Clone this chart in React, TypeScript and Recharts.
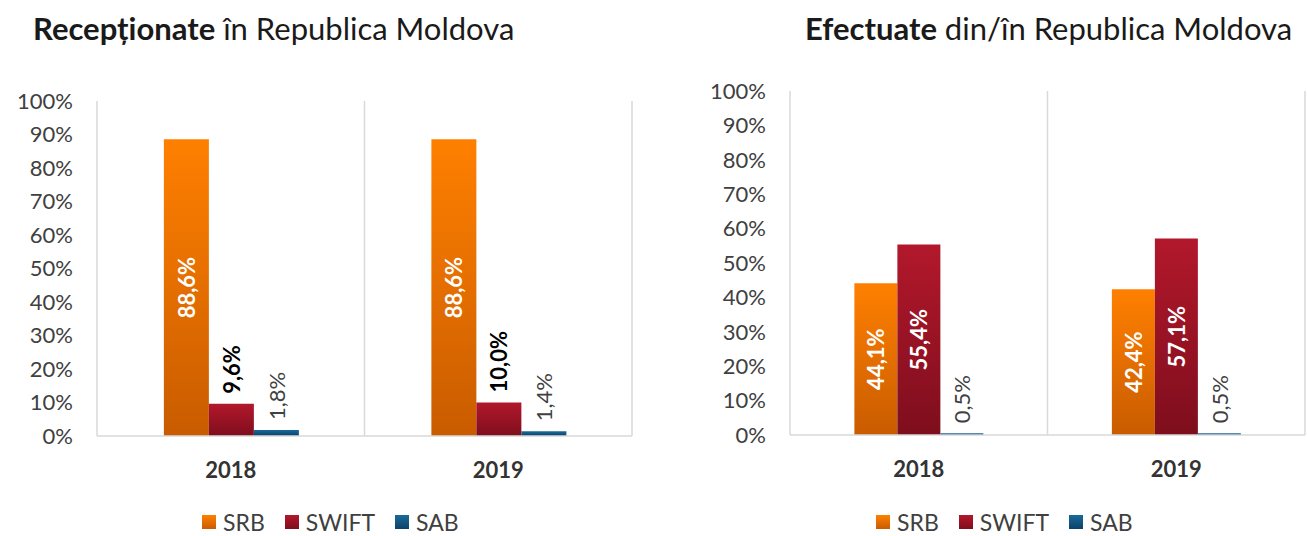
import React from 'react';
import { BarChart, Bar, XAxis, YAxis, CartesianGrid, Legend, LabelList } from 'recharts';

const categories = ['2018', '2019'];
const receivedSRB = [88.6, 88.6];
const receivedSWIFT = [9.6, 10.0];
const receivedSAB = [1.8, 1.4];
const sentSRB = [44.1, 42.4];
const sentSWIFT = [55.4, 57.1];
const sentSAB = [0.5, 0.5];
const yTicks = [0, 10, 20, 30, 40, 50, 60, 70, 80, 90, 100];
const seriesNames = ['SRB', 'SWIFT', 'SAB'];

const FONT = 'Lato, "Open Sans", sans-serif';
const GRID = '#d9d9d9';

const colors: Record<string, [string, string]> = {
    SRB: ['#ff8000', '#c95c00'],
    SWIFT: ['#b2182b', '#7e0e1d'],
    SAB: ['#1a6a9c', '#0c4266'],
};

const fmt = (v: number) => v.toFixed(1).replace('.', ',') + '%';

// rotated value label, either centred inside the bar or just above it
const makeLabel = (inside: boolean, color: string, weight: number) => (props: any) => {
    const { x, y, width, height, value } = props;
    const cx = x + width / 2;
    if (inside) {
        const cy = y + height / 2;
        return (
            <text x={cx} y={cy} transform={`rotate(-90 ${cx} ${cy})`} textAnchor="middle" dominantBaseline="central"
                fill={color} fontSize={22} fontWeight={weight} fontFamily={FONT}>{fmt(value)}</text>
        );
    }
    const ty = y - 10;
    return (
        <text x={cx} y={ty} transform={`rotate(-90 ${cx} ${ty})`} textAnchor="start" dominantBaseline="central"
            fill={color} fontSize={22} fontWeight={weight} fontFamily={FONT}>{fmt(value)}</text>
    );
};

const LegendContent = ({ padLeft, padTop }: { padLeft: number; padTop: number }) => (
    <div style={{ height: 50, display: 'flex', alignItems: 'center', paddingLeft: padLeft, paddingTop: padTop, boxSizing: 'border-box', fontFamily: FONT }}>
        {seriesNames.map((n) => (
            <div key={n} style={{ display: 'flex', alignItems: 'center', marginRight: 20 }}>
                <span style={{ width: 14, height: 14, background: `linear-gradient(${colors[n][0]}, ${colors[n][1]})`, marginRight: 7 }} />
                <span style={{ fontSize: 23, color: '#404040', lineHeight: '18px' }}>{n}</span>
            </div>
        ))}
    </div>
);

const Gradients = ({ prefix }: { prefix: string }) => (
    <defs>
        {seriesNames.map((n) => (
            <linearGradient key={n} id={`${prefix}-${n}`} x1="0" y1="0" x2="0" y2="1">
                <stop offset="0%" stopColor={colors[n][0]} />
                <stop offset="100%" stopColor={colors[n][1]} />
            </linearGradient>
        ))}
    </defs>
);

const buildData = (a: number[], b: number[], c: number[]) =>
    categories.map((cat, i) => ({ name: cat, SRB: a[i], SWIFT: b[i], SAB: c[i] }));

const receivedData = buildData(receivedSRB, receivedSWIFT, receivedSAB);
const sentData = buildData(sentSRB, sentSWIFT, sentSAB);

const gridGen = ({ offset }: any) => [offset.left + offset.width / 2, offset.left + offset.width];

const Panel = ({ data, prefix, width, top, right, yWidth, xHeight, legendPad, legendTop, swiftInside, swiftColor }: any) => (
    <BarChart width={width} height={536} data={data} margin={{ top, right, bottom: 0, left: 0 }} barCategoryGap="25%" barGap={0}>
        <Gradients prefix={prefix} />
        <CartesianGrid horizontal={false} stroke={GRID} strokeWidth={1.5} verticalCoordinatesGenerator={gridGen} />
        <XAxis dataKey="name" height={xHeight} axisLine={{ stroke: GRID, strokeWidth: 1.5 }} tickLine={false} tickMargin={20}
            tick={{ fontSize: 22, fontWeight: 700, fill: '#333333', fontFamily: FONT }} />
        <YAxis width={yWidth} domain={[0, 100]} ticks={yTicks} interval={0} tickFormatter={(v: number) => `${v}%`}
            axisLine={{ stroke: GRID, strokeWidth: 1.5 }} tickLine={false} tickSize={0} tickMargin={24}
            tick={{ fontSize: 22, fill: '#404040', fontFamily: FONT }} />
        <Legend verticalAlign="bottom" content={() => <LegendContent padLeft={legendPad} padTop={legendTop} />} />
        <Bar dataKey="SRB" fill={`url(#${prefix}-SRB)`} isAnimationActive={false}>
            <LabelList dataKey="SRB" content={makeLabel(true, '#ffffff', 700)} />
        </Bar>
        <Bar dataKey="SWIFT" fill={`url(#${prefix}-SWIFT)`} isAnimationActive={false}>
            <LabelList dataKey="SWIFT" content={makeLabel(swiftInside, swiftColor, 700)} />
        </Bar>
        <Bar dataKey="SAB" fill={`url(#${prefix}-SAB)`} isAnimationActive={false}>
            <LabelList dataKey="SAB" content={makeLabel(false, '#404040', 400)} />
        </Bar>
    </BarChart>
);

const titleStyle: React.CSSProperties = {
    position: 'absolute', top: 10, fontFamily: FONT, fontSize: 31, color: '#1a1a1a', whiteSpace: 'nowrap', lineHeight: '36px',
};

export default function App() {
    return (
        <div style={{ position: 'absolute', left: 0, top: 0, width: 1307, height: 536, background: '#ffffff', overflow: 'hidden' }}>
            <div style={{ ...titleStyle, left: 33 }}><b>Recepționate</b> în Republica Moldova</div>
            <div style={{ ...titleStyle, left: 805 }}><b>Efectuate</b> din/în Republica Moldova</div>
            <div style={{ position: 'absolute', left: 0, top: 0 }}>
                <Panel data={receivedData} prefix="rec" width={645} top={101} right={13} yWidth={97} xHeight={50}
                    legendPad={202} legendTop={22} swiftInside={false} swiftColor="#000000" />
            </div>
            <div style={{ position: 'absolute', left: 665, top: 0 }}>
                <Panel data={sentData} prefix="snt" width={642} top={91} right={2} yWidth={125} xHeight={51}
                    legendPad={211} legendTop={22} swiftInside={true} swiftColor="#ffffff" />
            </div>
        </div>
    );
}
